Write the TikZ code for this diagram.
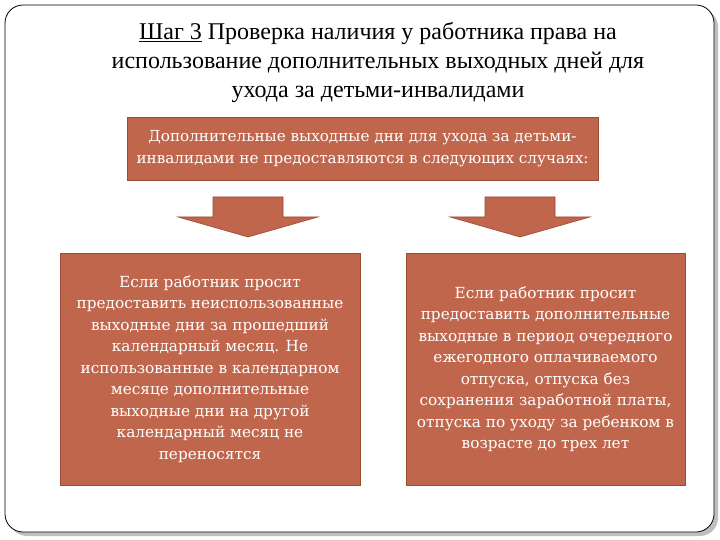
\documentclass[tikz,border=0pt]{standalone}
\usepackage{fontspec}
\setmainfont{Liberation Serif}
\newfontfamily\boxfont{DejaVu Serif}
\definecolor{brick}{HTML}{C0664C}
\definecolor{edge}{HTML}{9A4A36}
\begin{document}
\begin{tikzpicture}[x=1pt,y=-1pt,
  box/.style={fill=brick,draw=edge,line width=0.8pt,text=white,align=center,font=\boxfont\fontsize{15.3}{21.5}\selectfont,inner sep=0pt},
  arr/.style={fill=brick,draw=edge,line width=0.6pt}]
\useasboundingbox (0,0) rectangle (720,540);
\fill[gray!50,rounded corners=18pt] (9,9) rectangle (718,536);
\draw[fill=white,line width=0.8pt,rounded corners=18pt] (5,5) rectangle (714,532);
\node (title) [align=center,font=\fontsize{24}{29}\selectfont] at (378,63)
  {\underline{Шаг 3} Проверка наличия у работника права на\\использование дополнительных выходных дней для\\ухода за детьми-инвалидами};
\node (top) [box,minimum width=471pt,minimum height=63pt,font=\boxfont\fontsize{15.2}{22}\selectfont] at (362.5,148.5)
  {Дополнительные выходные дни для ухода за детьми-\\инвалидами не предоставляются в следующих случаях:};
\node (left) [box,minimum width=300pt,minimum height=232pt] at (210,369)
  {Если работник просит\\предоставить неиспользованные\\выходные дни за прошедший\\календарный месяц. Не\\использованные в календарном\\месяце дополнительные\\выходные дни на другой\\календарный месяц не\\переносятся};
\node (right) [box,minimum width=279pt,minimum height=232pt] at (545.5,369)
  {Если работник просит\\предоставить дополнительные\\выходные в период очередного\\ежегодного оплачиваемого\\отпуска, отпуска без\\сохранения заработной платы,\\отпуска по уходу за ребенком в\\возрасте до трех лет};
\draw[arr] (213,197) -- (283,197) -- (283,217) -- (318,217) -- (248,237) -- (178,217) -- (213,217) -- cycle;
\draw[arr] (485,197) -- (555,197) -- (555,217) -- (590,217) -- (520,237) -- (450,217) -- (485,217) -- cycle;
\end{tikzpicture}
\end{document}
